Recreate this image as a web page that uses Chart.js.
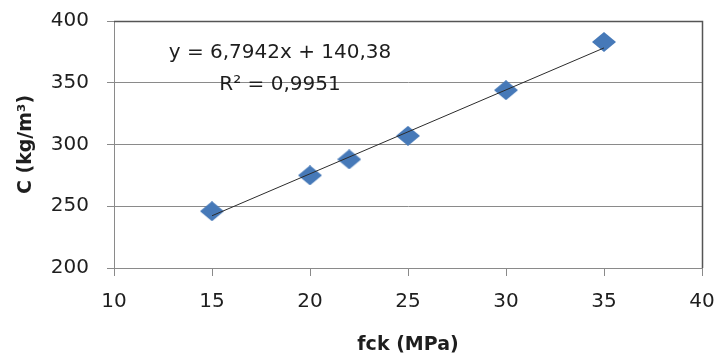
<!DOCTYPE html>
<html>
<head>
<meta charset="utf-8">
<script src="https://cdn.jsdelivr.net/npm/chart.js@4"></script>
<style>
  body { margin: 0; background: #fff; }
  #chart { display: block; }
</style>
</head>
<body>
<canvas id="chart" width="719" height="358"></canvas>
<script>
// fck vs cement content
const fck = [15, 20, 22, 25, 30, 35];
const cement = [246, 275, 288, 307, 344, 383];

// trendline ends
const trendX = [15, 35];
const trendY = [242.3, 378.2];

const xTicks = [10, 15, 20, 25, 30, 35, 40];
const yTicks = [200, 250, 300, 350, 400];

const equationText = 'y = 6,7942x + 140,38';
const r2Text = 'R² = 0,9951';

const gridGray = '#8a8a8a';
const textColor = '#1e1e1e';
const fontFamily = '"DejaVu Sans", sans-serif';

// diamond marker, a bit wider than tall like the excel one
function makeDiamond() {
    const c = document.createElement('canvas');
    c.width = 24;
    c.height = 20;
    const g = c.getContext('2d');
    g.beginPath();
    g.moveTo(12, 0);
    g.lineTo(24, 10);
    g.lineTo(12, 20);
    g.lineTo(0, 10);
    g.closePath();
    g.fillStyle = '#4679b8';
    g.fill();
    return c;
}

const frameAndText = {
    id: 'frameAndText',
    afterDatasetsDraw(chart) {
        const { ctx, chartArea } = chart;
        ctx.save();
        ctx.strokeStyle = '#555555';
        ctx.lineWidth = 1.5;
        ctx.beginPath();
        ctx.moveTo(chartArea.left, chartArea.top + 0.5);
        ctx.lineTo(chartArea.right + 0.5, chartArea.top + 0.5);
        ctx.lineTo(chartArea.right + 0.5, chartArea.bottom);
        ctx.stroke();

        ctx.fillStyle = textColor;
        ctx.font = '20px ' + fontFamily;
        ctx.textAlign = 'center';
        ctx.textBaseline = 'middle';
        ctx.fillText(equationText, chartArea.left + 166, chartArea.top + 32);
        ctx.fillText(r2Text, chartArea.left + 166, chartArea.top + 64);
        ctx.restore();
    }
};

const diamond = makeDiamond();

new Chart(document.getElementById('chart'), {
    type: 'scatter',
    data: {
        datasets: [
            {
                label: 'trend',
                type: 'line',
                data: trendX.map((x, i) => ({ x: x, y: trendY[i] })),
                borderColor: '#2b2b2b',
                borderWidth: 1,
                pointRadius: 0,
                fill: false,
                order: 0
            },
            {
                label: 'C',
                data: fck.map((x, i) => ({ x: x, y: cement[i] })),
                pointStyle: diamond,
                pointRadius: 12,
                order: 1
            }
        ]
    },
    options: {
        responsive: false,
        animation: false,
        devicePixelRatio: 1,
        layout: { padding: { top: 21, right: 17, left: 0, bottom: 0 } },
        plugins: {
            legend: { display: false },
            tooltip: { enabled: false }
        },
        scales: {
            x: {
                type: 'linear',
                min: 10,
                max: 40,
                afterBuildTicks: (scale) => { scale.ticks = xTicks.map(v => ({ value: v })); },
                afterFit: (scale) => {
                    scale.height = 90;
                    scale.paddingLeft = 0;
                    scale.paddingRight = 0;
                },
                grid: {
                    drawOnChartArea: false,
                    drawTicks: true,
                    tickLength: 8,
                    color: gridGray
                },
                border: { display: true, color: gridGray },
                ticks: {
                    padding: 14,
                    color: textColor,
                    font: { family: fontFamily, size: 20 }
                },
                title: {
                    display: true,
                    text: 'fck (MPa)',
                    color: textColor,
                    font: { family: fontFamily, size: 19, weight: 'bold' },
                    padding: { top: 0, bottom: 2 }
                }
            },
            y: {
                type: 'linear',
                min: 200,
                max: 400,
                afterBuildTicks: (scale) => { scale.ticks = yTicks.map(v => ({ value: v })); },
                afterFit: (scale) => {
                    scale.width = 114;
                    scale.paddingTop = 0;
                    scale.paddingBottom = 0;
                },
                grid: {
                    drawTicks: true,
                    tickLength: 7,
                    color: gridGray
                },
                border: { display: true, color: gridGray },
                ticks: {
                    padding: 18,
                    color: textColor,
                    font: { family: fontFamily, size: 20 }
                },
                title: {
                    display: true,
                    text: 'C (kg/m³)',
                    color: textColor,
                    font: { family: fontFamily, size: 19, weight: 'bold' },
                    padding: { top: 15, bottom: 0 }
                }
            }
        }
    },
    plugins: [frameAndText]
});
</script>
</body>
</html>
